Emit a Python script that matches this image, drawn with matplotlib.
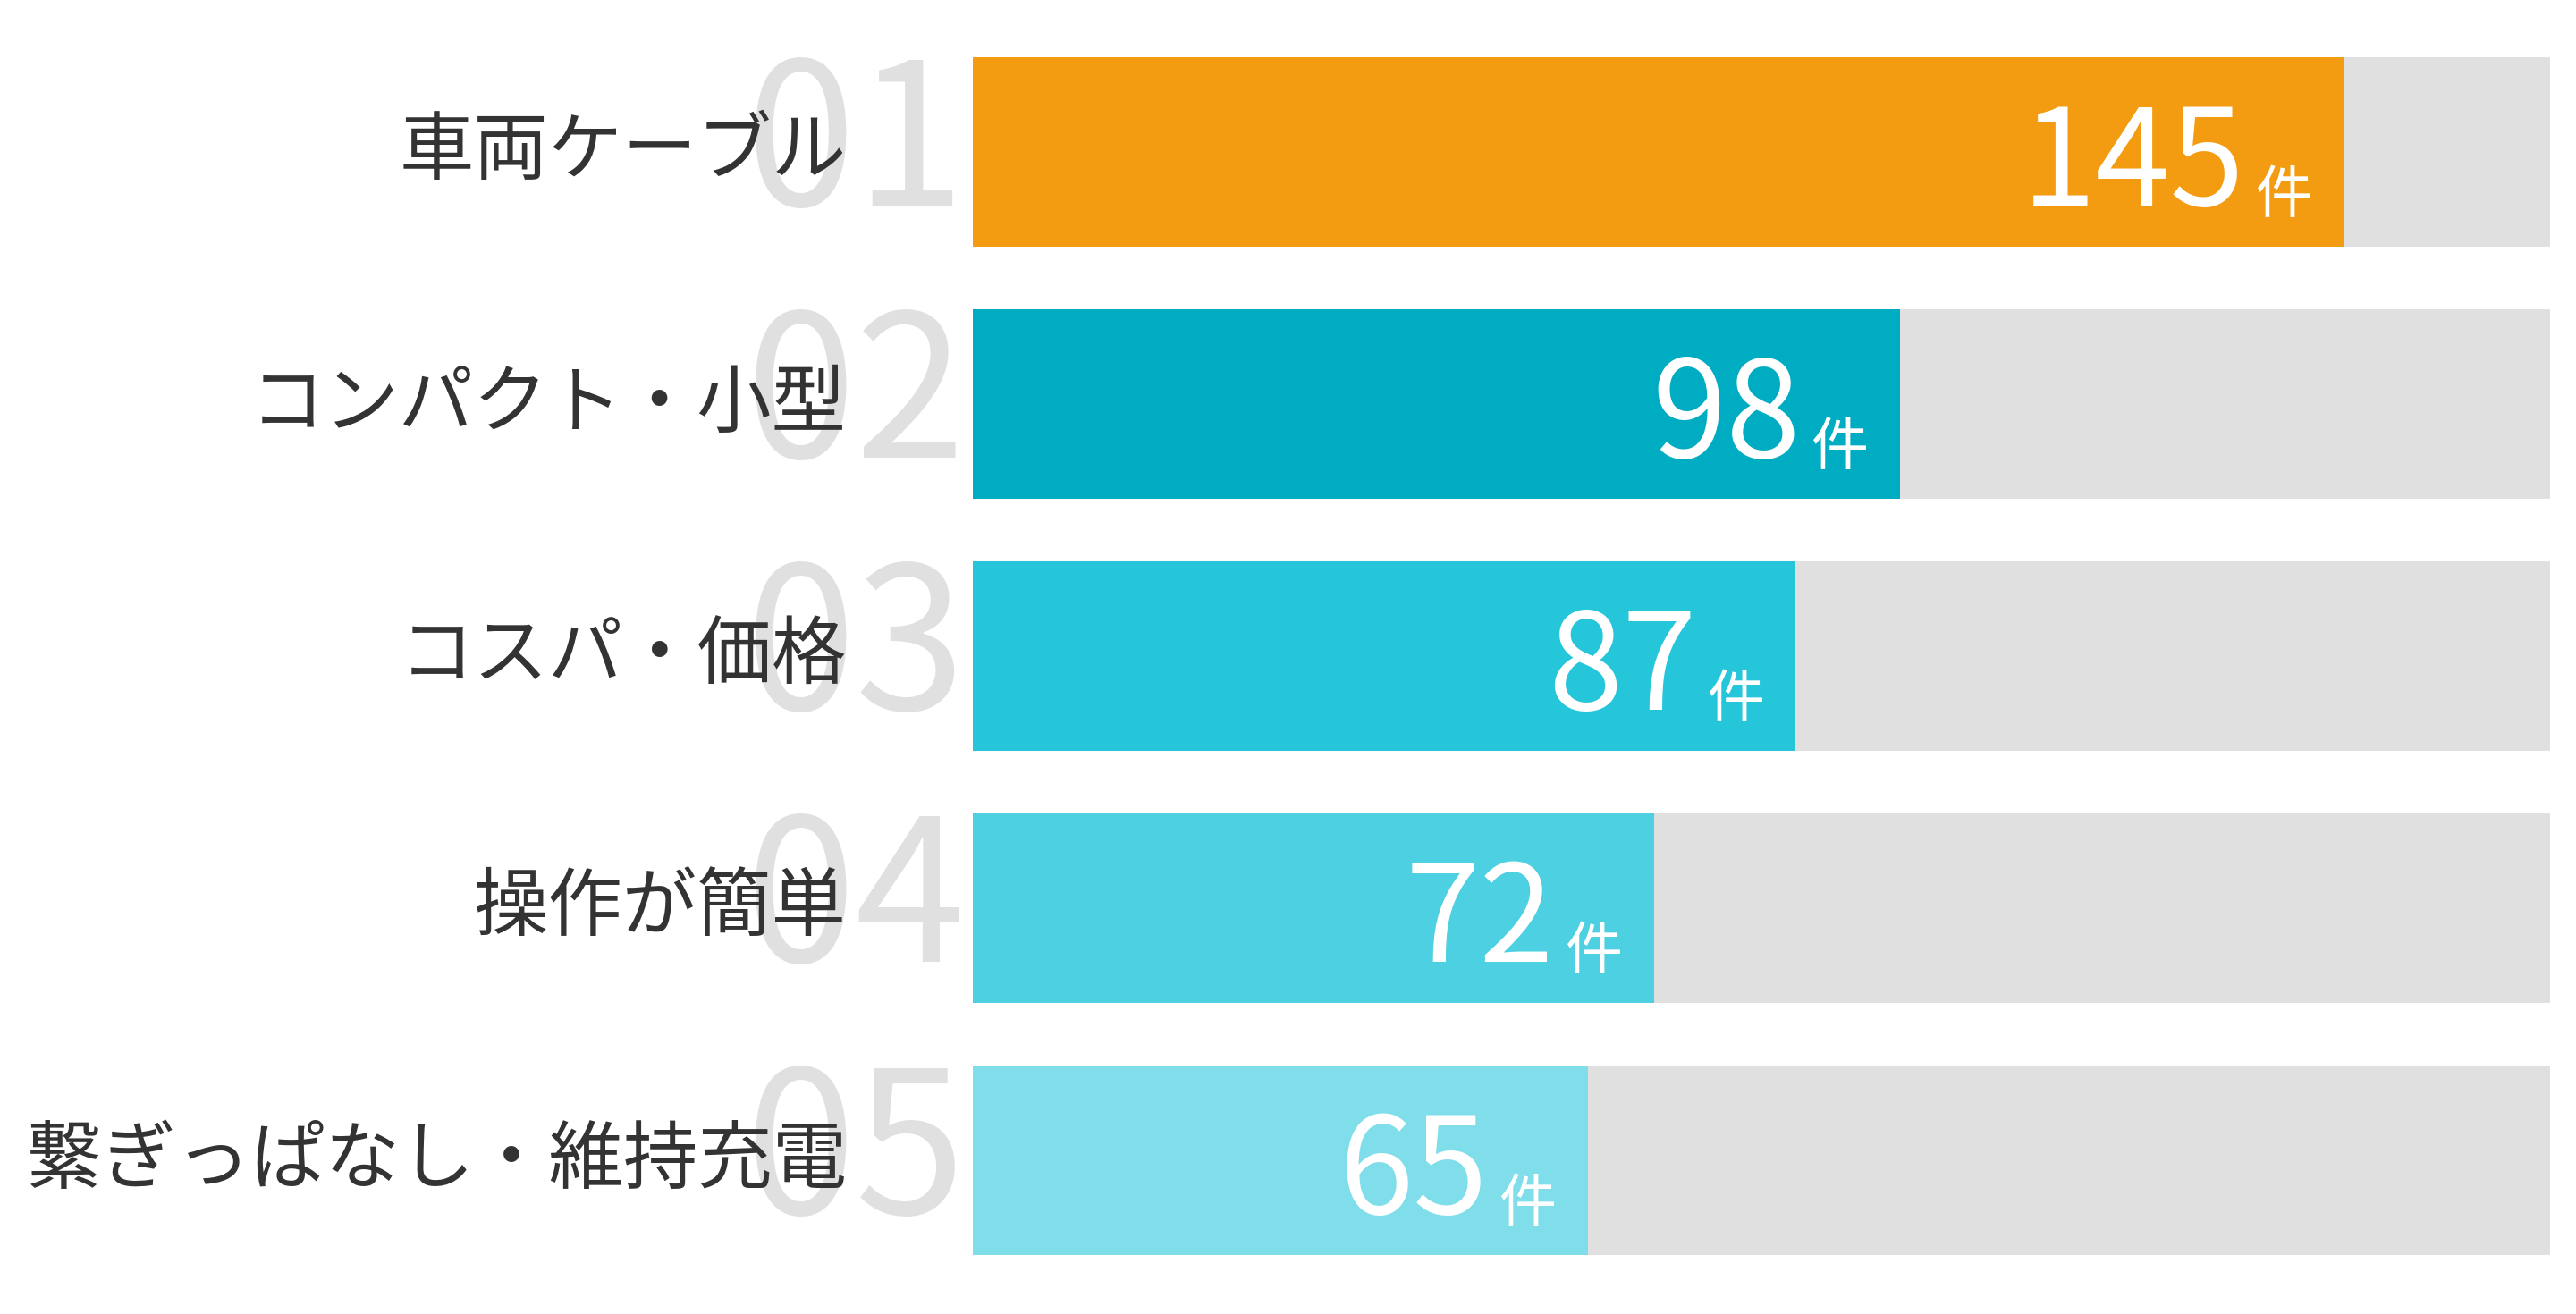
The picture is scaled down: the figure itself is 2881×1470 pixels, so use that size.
import matplotlib
matplotlib.use("Agg")
import matplotlib.pyplot as plt

plt.rcParams['font.family'] = ['Noto Sans CJK JP', 'DejaVu Sans']

categories = ["車両ケーブル", "コンパクト・小型", "コスパ・価格", "操作が簡単", "繋ぎっぱなし・維持充電"]
ranks = ["01", "02", "03", "04", "05"]
values = [145, 98, 87, 72, 65]
unit = "件"
bar_colors = ["#F39C12", "#00ACC1", "#26C6DA", "#4DD0E1", "#80DEEA"]
track_color = "#E0E0E0"
xmax = max(values) * 1.15

W, H, DPI = 2881, 1470, 100
fig = plt.figure(figsize=(W / DPI, H / DPI), dpi=DPI)
fig.patch.set_facecolor("white")
left = 1088 / W
right = 2852 / W
top = 1 - 64 / H
bottom = 1 - 1404 / H
ax = fig.add_axes([left, bottom, right - left, top - bottom])

n = len(values)
ypos = list(range(n))
bh = 0.75
ax.barh(ypos, [xmax] * n, height=bh, color=track_color, zorder=1)
ax.barh(ypos, values, height=bh, color=bar_colors, zorder=2)
ax.set_xlim(0, xmax)
ax.set_ylim(n - 1 + bh / 2, -bh / 2)
ax.axis("off")

tr = ax.get_yaxis_transform()
for i, (cat, rk, v) in enumerate(zip(categories, ranks, values)):
    base = i + 0.212
    ax.text(-0.004, base, rk, transform=tr, ha="right", va="baseline",
            fontsize=160, color="#E0E0E0", fontweight="normal", zorder=0, clip_on=False)
    ax.text(-0.080, base - 0.125, cat, transform=tr, ha="right", va="baseline",
            fontsize=60, color="#333333", zorder=3, clip_on=False)
    ax.annotate(unit, xy=(v, base + 0.03), xycoords="data", xytext=(-25, 0),
                textcoords="offset points", ha="right", va="baseline",
                fontsize=46, color="white", zorder=4)
    ax.annotate(str(v), xy=(v, base), xycoords="data", xytext=(-80, 0),
                textcoords="offset points", ha="right", va="baseline",
                fontsize=108, color="white", fontweight="normal", zorder=4)

fig.savefig("out.png", dpi=DPI, facecolor="white")
